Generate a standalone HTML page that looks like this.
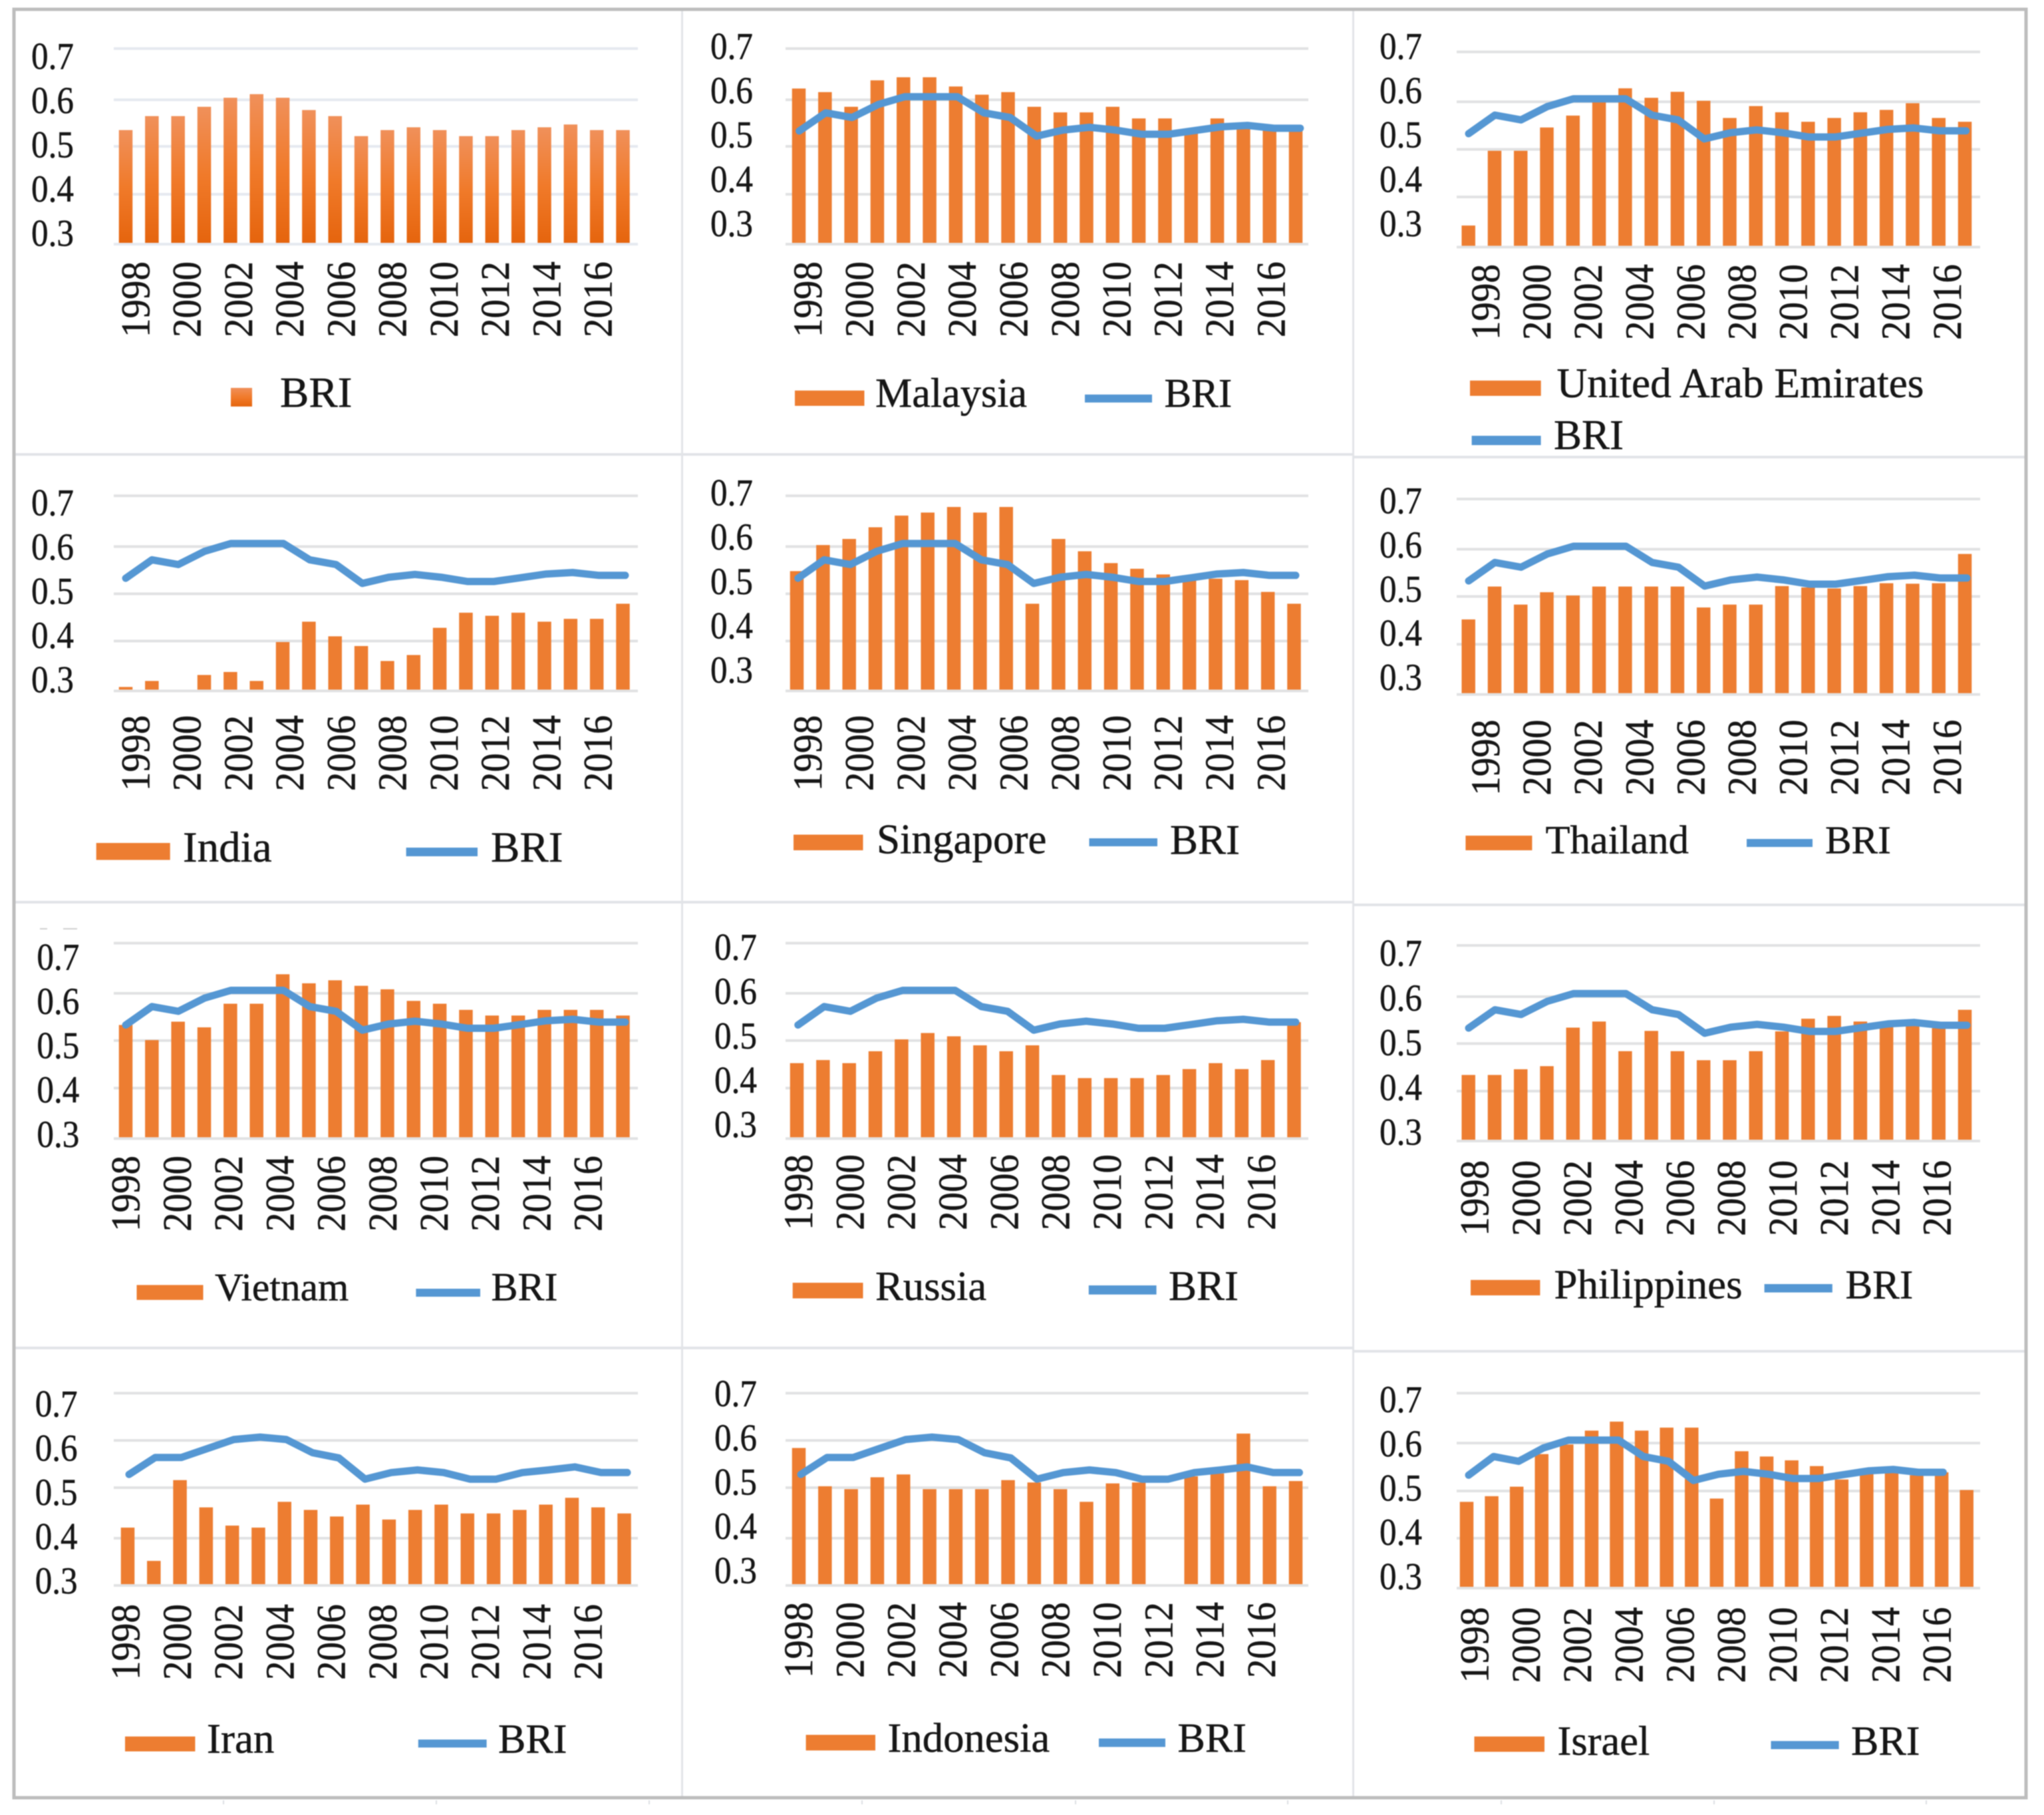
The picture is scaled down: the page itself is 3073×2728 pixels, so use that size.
<!DOCTYPE html>
<html lang="en">
<head>
<meta charset="utf-8">
<title>Country comparison with BRI, 1998-2017</title>
<style>
html,body{margin:0;padding:0;background:#fff;}
body{width:3073px;height:2728px;overflow:hidden;}
svg{display:block;filter:blur(0.9px);}
text{font-family:"Liberation Serif",serif;fill:#161616;stroke:#161616;stroke-width:0.5px;}
</style>
</head>
<body>
<svg id="figure" xmlns="http://www.w3.org/2000/svg" width="3073" height="2728" viewBox="0 0 3073 2728">
  <defs>
    <linearGradient id="briGradient" x1="0" y1="0" x2="0" y2="1">
      <stop offset="0" stop-color="#f0905a"/>
      <stop offset="0.5" stop-color="#f07a2a"/>
      <stop offset="1" stop-color="#e5640d"/>
    </linearGradient>
  </defs>
  <rect x="0" y="0" width="3073" height="2728" fill="#ffffff"/>
  <g fill="#e2e4e8">
    <rect x="1024" y="14" width="3" height="2688"/>
    <rect x="2033" y="14" width="3" height="2688"/>
    <rect x="22" y="681" width="2012" height="4"/>
    <rect x="2034" y="685" width="1010" height="4"/>
    <rect x="22" y="1354" width="2012" height="4"/>
    <rect x="2034" y="1358" width="1010" height="4"/>
    <rect x="22" y="2024" width="2012" height="4"/>
    <rect x="2034" y="2029" width="1010" height="4"/>
  </g>
  <rect x="21" y="14" width="3025" height="2688" fill="none" stroke="#bdbdbd" stroke-width="5"/>
  <g fill="#dcdfe3">
    <rect x="335" y="2706" width="2" height="6"/>
    <rect x="655" y="2706" width="2" height="6"/>
    <rect x="975" y="2706" width="2" height="6"/>
    <rect x="1295" y="2706" width="2" height="6"/>
    <rect x="1616" y="2706" width="2" height="6"/>
    <rect x="1935" y="2706" width="2" height="6"/>
    <rect x="2256" y="2706" width="2" height="6"/>
    <rect x="2576" y="2706" width="2" height="6"/>
    <rect x="2895" y="2706" width="2" height="6"/>
  </g>
  <g fill="#d0d0d0">
    <rect x="60" y="1395" width="11" height="2"/>
    <rect x="95" y="1395" width="21" height="2"/>
  </g>
  <g id="panels"></g>
</svg>
<script>
// ---- Shared axis data ----
const years = [1998,1999,2000,2001,2002,2003,2004,2005,2006,2007,2008,2009,2010,2011,2012,2013,2014,2015,2016,2017];
const yTickValues = [0.7,0.6,0.5,0.4,0.3];
const yTickLabels = ['0.7','0.6','0.5','0.4','0.3'];
const xTickLabels = ['1998','2000','2002','2004','2006','2008','2010','2012','2014','2016'];

// ---- Series values ----
const briBars = [.535,.565,.565,.585,.604,.611,.604,.578,.565,.522,.535,.541,.535,.522,.522,.535,.541,.547,.535,.535];
const briLine = [.533,.572,.562,.59,.606,.606,.606,.572,.562,.522,.535,.541,.535,.526,.526,.534,.542,.545,.539,.539];
const briLineSmooth = [.528,.564,.564,.583,.602,.607,.602,.574,.563,.518,.532,.5375,.532,.518,.518,.532,.5375,.544,.532,.532];
const malaysia = [.622,.615,.585,.638,.644,.644,.626,.61,.615,.585,.573,.573,.585,.56,.56,.53,.56,.551,.54,.543];
const uae = [.343,.497,.497,.546,.571,.602,.627,.608,.62,.602,.566,.591,.578,.558,.566,.578,.583,.597,.566,.558];
const india = [.308,.32,.3,.332,.338,.32,.398,.441,.41,.39,.36,.372,.428,.46,.4535,.46,.441,.447,.447,.479];
const singapore = [.548,.603,.615,.638,.661,.667,.678,.667,.678,.479,.615,.59,.565,.553,.541,.532,.532,.529,.504,.479];
const thailand = [.452,.521,.483,.509,.502,.521,.521,.521,.521,.477,.483,.483,.522,.519,.517,.522,.528,.527,.528,.59];
const vietnam = [.533,.501,.54,.528,.578,.578,.638,.62,.626,.615,.608,.584,.578,.565,.553,.553,.565,.565,.565,.553];
const russia = [.4525,.459,.4525,.4775,.5025,.516,.509,.49,.4775,.49,.4275,.421,.421,.421,.4275,.44,.4525,.44,.459,.539];
const philippines = [.434,.434,.446,.4525,.534,.547,.484,.527,.484,.465,.465,.484,.526,.553,.559,.547,.544,.542,.533,.572];
const iran = [.421,.352,.516,.461,.425,.421,.472,.456,.443,.4665,.437,.456,.4665,.449,.449,.456,.4665,.48,.461,.449];
const indonesia = [.584,.503,.497,.522,.528,.497,.497,.497,.516,.511,.497,.472,.509,.511,.3,.524,.53,.6145,.503,.514];
const israel = [.477,.489,.509,.577,.597,.625,.643,.625,.631,.631,.484,.583,.572,.564,.552,.524,.5425,.5425,.533,.539,.502];

// ---- Panel layout (geometry only) ----
const panels = [
 {name:'BRI',slug:'bri',bars:briBars,line:null,gx:[171,959],gy:[73,150,220,292,367],bx:[189,936.5],lx:null,ylx:47,yly:[103.6,369.6],xlx:[224.5,919.5],xly:507,
  legend:{square:[347,583,32,28],text:[421,611.6,65]}},
 {name:'Malaysia',slug:'malaysia',bars:malaysia,line:briLine,gx:[1181,1967],gy:[73,150,220,292,367],bx:[1201,1948],lx:[1201.6,1954.8],ylx:1068,yly:[88.4,355],xlx:[1235,1931.5],xly:507,
  legend:{swatch:[1195,587,104.5,23],text:[1316,611.6,62.2],lineSw:[1631,593,101,12],briText:[1750.5,611.6,61]}},
 {name:'United Arab Emirates',slug:'uae',bars:uae,line:briLine,gx:[2190,2977],gy:[78,153,224.5,296,371.4],bx:[2207.7,2954],lx:[2208,2955.7],ylx:2074,yly:[88.4,355],xlx:[2254,2947.8],xly:511,
  legend:{swatch:[2210,572,106.7,23],text:[2340.5,597,63.3],lineSw:[2212.6,655,104,14],briText:[2336,675,63]}},
 {name:'India',slug:'india',bars:india,line:briLine,gx:[171,959],gy:[745.2,821.5,892.5,963.5,1038.5],bx:[189,936.5],lx:[189,940],ylx:47,yly:[774.6,1040.7],xlx:[224.5,919.5],xly:1189,
  legend:{swatch:[144.7,1267,111,25.5],text:[275,1295,65],lineSw:[610.6,1274,107.4,13],briText:[738,1295,65]}},
 {name:'Singapore',slug:'singapore',bars:singapore,line:briLine,gx:[1181,1967],gy:[745.2,821.5,892.5,963.5,1038.5],bx:[1198,1945.5],lx:[1199.7,1948],ylx:1068,yly:[759.5,1026],xlx:[1235,1931.5],xly:1189,
  legend:{swatch:[1193,1254.5,104.5,23.5],text:[1318,1282.7,63],lineSw:[1637.5,1260,102.5,12],briText:[1759,1283.6,63]}},
 {name:'Thailand',slug:'thailand',bars:thailand,line:briLine,gx:[2190,2977],gy:[750,825.5,896.5,968.4,1043.8],bx:[2207.7,2954],lx:[2208,2957],ylx:2074,yly:[771.5,1037],xlx:[2254,2947.8],xly:1195.6,
  legend:{swatch:[2203.4,1256,100,22],text:[2323.5,1282.7,60.6],lineSw:[2626,1261,99,12],briText:[2744,1282.7,59.3]}},
 {name:'Vietnam',slug:'vietnam',bars:vietnam,line:briLine,gx:[171,959],gy:[1417.6,1493,1564,1635.4,1711.3],bx:[189,936.5],lx:[189,940],ylx:55.4,yly:[1457.3,1723.8],xlx:[209.6,904.7],xly:1851,
  legend:{swatch:[205.5,1931.4,100,22.4],text:[323,1954.6,59.5],lineSw:[625.4,1937,96.6,12],briText:[738.5,1954.6,60]}},
 {name:'Russia',slug:'russia',bars:russia,line:briLine,gx:[1181,1967],gy:[1417.6,1493,1564,1635.4,1711.3],bx:[1198,1945.5],lx:[1199.7,1948],ylx:1074,yly:[1442.6,1709],xlx:[1221,1917],xly:1849,
  legend:{swatch:[1191.7,1928,105.8,23.5],text:[1316,1953.8,62.7],lineSw:[1636.8,1932,101.8,13.7],briText:[1757,1953.8,63]}},
 {name:'Philippines',slug:'philippines',bars:philippines,line:briLine,gx:[2190,2977],gy:[1421,1498,1568.5,1640,1715],bx:[2207.7,2954],lx:[2208,2957],ylx:2074,yly:[1451.5,1720.7],xlx:[2237.6,2932.6],xly:1857.8,
  legend:{swatch:[2211,1923.8,104.4,23.2],text:[2336.5,1951.5,62.9],lineSw:[2652.6,1930,102.2,12.6],briText:[2774.5,1951.5,61]}},
 {name:'Iran',slug:'iran',bars:iran,line:briLineSmooth,gx:[171,959],gy:[2094,2165,2236,2312,2383],bx:[192,938.5],lx:[194,943],ylx:52.7,yly:[2128.8,2395],xlx:[209.6,904.7],xly:2525,
  legend:{swatch:[188,2610,105.4,22.4],text:[311,2634.6,63],lineSw:[628.8,2614.6,102.8,12],briText:[749,2634.6,62]}},
 {name:'Indonesia',slug:'indonesia',bars:indonesia,line:briLineSmooth,gx:[1181,1967],gy:[2094,2165,2236,2312,2383],bx:[1201,1948],lx:[1204,1953.5],ylx:1074,yly:[2113.7,2379.5],xlx:[1221,1917],xly:2522,
  legend:{swatch:[1211.6,2607.5,104.4,23.5],text:[1334.5,2633,62.7],lineSw:[1652,2613,100,12.7],briText:[1770.5,2633,62]}},
 {name:'Israel',slug:'israel',bars:israel,line:briLine,gx:[2190,2977],gy:[2094,2169,2241,2312,2387],bx:[2205,2956.7],lx:[2208,2921.4],ylx:2074,yly:[2122.6,2388.4],xlx:[2237.6,2932.6],xly:2529.5,
  legend:{swatch:[2216.5,2610,105.5,23],text:[2341.5,2637.7,62.5],lineSw:[2662.5,2616.8,102.1,12.2],briText:[2783,2637.7,62]}}
];

const SVG_NS = 'http://www.w3.org/2000/svg';
const BAR_W = 20.5, BAR_COLOR = '#ed7d31', LINE_COLOR = '#5597d3', GRID_COLOR = '#e1e2e3';

function mk(tag, attrs, parent) {
  const el = document.createElementNS(SVG_NS, tag);
  for (const k in attrs) el.setAttribute(k, attrs[k]);
  parent.appendChild(el);
  return el;
}

// Value axis: follows the panel's own gridlines, piecewise between ticks.
function yScale(panel, v) {
  const ticks = yTickValues, g = panel.gy;
  let i = 0;
  while (i < ticks.length - 2 && v < ticks[i + 1]) i++;
  const t = (ticks[i] - v) / (ticks[i] - ticks[i + 1]);
  return g[i] + t * (g[i + 1] - g[i]);
}
// Category axis.
function xScale(range, i, n) {
  return range[0] + i * (range[1] - range[0]) / (n - 1);
}

const root = document.getElementById('panels');

panels.forEach(function (p) {
  const g = mk('g', {}, root);
  
  

  // Gridlines and y tick labels
  yTickValues.forEach(function (v, i) {
    const y = yScale(p, v);
    const grid = mk('rect', {x: p.gx[0], y: y - 2, width: p.gx[1] - p.gx[0], height: 4, fill: p.line ? GRID_COLOR : '#e6e9f0'}, g);
    
    

    const ly = p.yly[0] + i * (p.yly[1] - p.yly[0]) / (yTickValues.length - 1);
    const label = mk('text', {'font-size': 55, transform: 'translate(' + p.ylx + ',' + ly + ') scale(0.93,1.03)'}, g);
    label.textContent = yTickLabels[i];
    
    
  });

  // Bars
  p.bars.forEach(function (v, i) {
    const x = xScale(p.bx, i, p.bars.length);
    const top = yScale(p, v);
    const base = yScale(p, 0.3) - 2;
    const bar = mk('rect', {x: x - BAR_W / 2, y: top, width: BAR_W, height: Math.max(0, base - top), fill: p.line ? BAR_COLOR : 'url(#briGradient)'}, g);
    
    
  });

  // BRI line
  if (p.line) {
    const pts = p.line.map(function (v, i) {
      return xScale(p.lx, i, p.line.length).toFixed(1) + ',' + yScale(p, v).toFixed(1);
    }).join(' ');
    const line = mk('polyline', {points: pts, fill: 'none', stroke: LINE_COLOR, 'stroke-width': 11, 'stroke-linejoin': 'round', 'stroke-linecap': 'round'}, g);
    
    
  }

  // X tick labels
  xTickLabels.forEach(function (t, i) {
    const x = xScale(p.xlx, i, xTickLabels.length);
    const label = mk('text', {'font-size': 57, transform: 'translate(' + x + ',' + p.xly + ') rotate(-90) scale(1,1.08)'}, g);
    label.textContent = t;
    
    
  });

  // Legend
  const lg = mk('g', {}, g);
  
  
  const L = p.legend;
  if (L.square) {
    const sq = mk('rect', {x: L.square[0], y: L.square[1], width: L.square[2], height: L.square[3], fill: 'url(#briGradient)'}, lg);
    
    
  }
  if (L.swatch) {
    const sw = mk('rect', {x: L.swatch[0], y: L.swatch[1], width: L.swatch[2], height: L.swatch[3], fill: BAR_COLOR}, lg);
    
    
  }
  const tx = mk('text', {x: L.text[0], y: L.text[1], 'font-size': L.text[2]}, lg);
  tx.textContent = p.name;
  
  
  if (L.lineSw) {
    const ls = mk('rect', {x: L.lineSw[0], y: L.lineSw[1], width: L.lineSw[2], height: L.lineSw[3], fill: LINE_COLOR}, lg);
    
    
    const bt = mk('text', {x: L.briText[0], y: L.briText[1], 'font-size': L.briText[2]}, lg);
    bt.textContent = 'BRI';
    
    
  }
});
</script>
</body>
</html>
